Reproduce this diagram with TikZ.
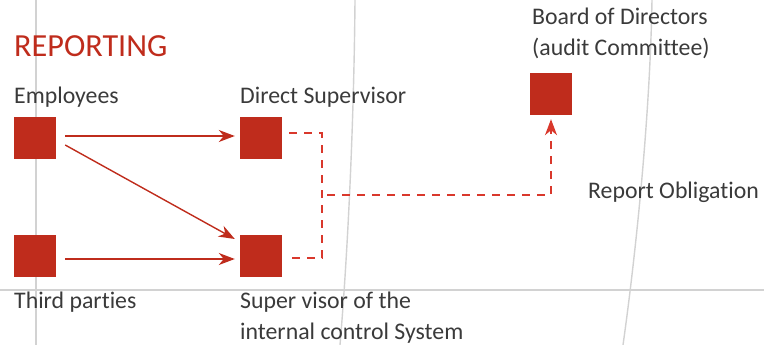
\documentclass[tikz,border=0pt]{standalone}
\usepackage{fontspec}
\setmainfont{Carlito}[Ligatures={NoCommon}]
\usetikzlibrary{arrows.meta}
\definecolor{boxred}{HTML}{BF2C1C}
\definecolor{dashred}{HTML}{D9382C}
\definecolor{txt}{HTML}{3A3A3A}
\definecolor{gridgray}{HTML}{D2D2D2}
\begin{document}
\begin{tikzpicture}[x=1pt,y=-1pt,
 sq/.style={fill=boxred, minimum size=42pt, inner sep=0pt, draw=none},
 lbl/.style={anchor=base west, inner sep=0pt, text=txt, font=\fontsize{23.8}{31}\selectfont},
 tip/.style={-{Stealth[length=16pt,width=12pt,inset=5pt]}},
 arr/.style={draw=boxred, line width=1.4pt, tip},
 dsh/.style={draw=dashred, line width=1.3pt, dash pattern=on 8pt off 7pt},
 gl/.style={draw=gridgray, line width=1.4pt}]
\useasboundingbox (0,0) rectangle (764,345);
% background lines
\draw[gl] (36,0) -- (36,345);
\draw[gl] (355,0) .. controls (354,120) and (348,250) .. (340,345);
\draw[gl] (652,0) .. controls (650,120) and (635,260) .. (623,345);
\draw[gl] (0,290) -- (764,290);
% title
\node[anchor=base west, inner sep=0pt, text=boxred, font=\fontsize{32.2}{38}\selectfont] (title) at (14,57) {REPORTING};
% squares
\node[sq] (emp) at (35,138) {};
\node[sq] (dir) at (261,138) {};
\node[sq] (third) at (35,256) {};
\node[sq] (sup) at (261,256) {};
\node[sq] (board) at (551,94) {};
% labels
\node[lbl] (empl) at (14,104) {Employees};
\node[lbl] (dirl) at (240,104) {Direct Supervisor};
\node[lbl] (thirdl) at (14,308) {Third parties};
\node[lbl] (supl) at (240,308) {\begin{tabular}[t]{@{}l@{}}Super visor of the\\internal control System\end{tabular}};
\node[lbl] (boardl) at (532,25) {\begin{tabular}[t]{@{}l@{}}Board of Directors\\(audit Committee)\end{tabular}};
\node[lbl] (obl) at (588,198) {Report Obligation};
% solid arrows
\draw[arr] ([xshift=9pt,yshift=2pt]emp.east) -- ([xshift=-5pt,yshift=2pt]dir.west);
\draw[arr] ([xshift=9pt,yshift=-7pt]emp.east) -- ([xshift=-5pt,yshift=17pt]sup.west);
\draw[arr] ([xshift=9pt,yshift=-3pt]third.east) -- ([xshift=-5pt,yshift=-3pt]sup.west);
% dashed connectors
\coordinate (c1) at (322,133);
\coordinate (c2) at (322,258);
\coordinate (c3) at (327,195);
\draw[dsh] ([xshift=7pt,yshift=5pt]dir.east) -- (c1) -- (c2) -- ([xshift=5pt,yshift=-2pt]sup.east);
\draw[dsh, tip] (c3) -| ([yshift=-4pt]board.south);
\end{tikzpicture}
\end{document}
